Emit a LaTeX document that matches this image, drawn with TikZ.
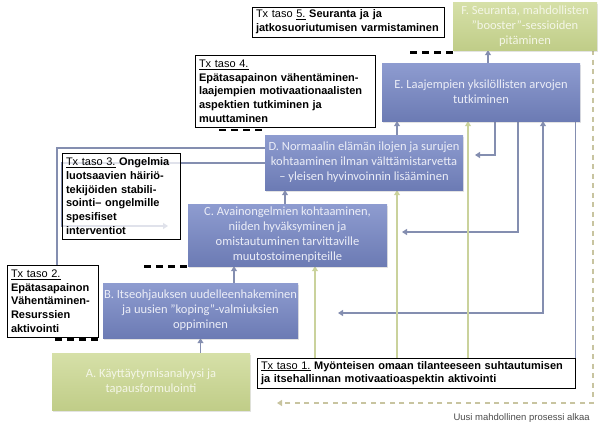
\documentclass[tikz,border=0pt]{standalone}
\usepackage{fontspec}
\setmainfont{Liberation Sans}
\newfontfamily\boxfont{Carlito}
\usetikzlibrary{arrows.meta,shadows,backgrounds}

\definecolor{stepblueT}{RGB}{142,156,208}
\definecolor{stepblueB}{RGB}{108,123,180}
\definecolor{stepgreenT}{RGB}{214,224,168}
\definecolor{stepgreenB}{RGB}{192,205,136}
\definecolor{colLink}{RGB}{132,142,176}
\definecolor{colGreen}{RGB}{202,210,156}
\definecolor{colReturn}{RGB}{200,196,160}

\tikzset{
  stepbox/.style={draw=none, top color=stepblueT, bottom color=stepblueB,
    text=white!82!stepblueT, font=\boxfont\fontsize{12.5}{15}\selectfont,
    align=center, inner sep=0pt,
    drop shadow={opacity=0.22, shadow xshift=1pt, shadow yshift=-1.5pt}},
  greenbox/.style={stepbox, top color=stepgreenT, bottom color=stepgreenB,
    text=white!72!stepgreenT},
  levelbox/.style={draw=black, line width=0.7pt, fill=white,
    font=\fontsize{11}{13.7}\selectfont, align=left,
    inner xsep=4pt, inner ysep=0pt},
  plainlink/.style={draw=colLink, line width=1.6pt},
  uplink/.style={plainlink, -{Triangle[width=6pt,length=5pt]}},
  bothlink/.style={plainlink, {Triangle[width=6pt,length=5pt]}-{Triangle[width=6pt,length=5pt]}},
  greenlink/.style={draw=colGreen, line width=1.6pt, -{Triangle[width=6pt,length=5pt]}},
  returnlink/.style={draw=colReturn, line width=2pt, dash pattern=on 5pt off 4.5pt,
    -{Triangle[width=6pt,length=5pt]}},
  stairdash/.style={draw=black, line width=2.6pt, dash pattern=on 7pt off 5pt}
}

\begin{document}
\begin{tikzpicture}[x=1pt,y=-1pt]
    \useasboundingbox (0,0) rectangle (605,426);

    % Vaiheet A-F
    \node[greenbox, minimum width=198pt, minimum height=57pt] (A) at (151,381.5)
        {A. Käyttäytymisanalyysi ja\\tapausformulointi};
    \node[stepbox, minimum width=195pt, minimum height=55pt] (B) at (200.5,310.5)
        {B. Itseohjauksen uudelleenhakeminen\\ja uusien ”koping”-valmiuksien\\oppiminen};
    \node[stepbox, minimum width=199pt, minimum height=62pt] (C) at (287.5,235)
        {C. Avainongelmien kohtaaminen,\\niiden hyväksyminen ja\\omistautuminen tarvittaville\\muutostoimenpiteille};
    \node[stepbox, minimum width=198pt, minimum height=55pt] (D) at (364,162.5)
        {D. Normaalin elämän ilojen ja surujen\\kohtaaminen ilman välttämistarvetta\\– yleisen hyvinvoinnin lisääminen};
    \node[stepbox, minimum width=198pt, minimum height=58pt] (E) at (481,92)
        {E. Laajempien yksilöllisten arvojen\\tutkiminen};
    \node[greenbox, minimum width=144pt, minimum height=48pt] (F) at (525,26)
        {F. Seuranta, mahdollisten\\”booster”-sessioiden\\pitäminen};

    % Tx-tasot
    \node[levelbox, text width=184pt, minimum height=30pt] (tx5) at (348,22)
        {Tx taso \underline{5.} \bfseries Seuranta ja ja\\jatkosuoriutumisen varmistaminen};
    \node[levelbox, text width=172pt, minimum height=72pt] (tx4) at (285,91)
        {\underline{Tx taso 4.}\\\bfseries Epätasapainon vähentäminen-\\laajempien motivaationaalisten\\aspektien tutkiminen ja\\muuttaminen};
    \node[levelbox, text width=110pt, minimum height=86pt, fill opacity=0.75, text opacity=1] (tx3) at (121,196)
        {\underline{Tx taso 3.} \bfseries Ongelmia\\luotsaavien häiriö-\\tekijöiden stabili-\\sointi– ongelmille\\spesifiset\\interventiot};
    \node[levelbox, text width=83pt, minimum height=72pt] (tx2) at (52.5,301)
        {\underline{Tx taso 2.}\\\bfseries Epätasapainon\\Vähentäminen-\\Resurssien\\aktivointi};
    \node[levelbox, text width=310pt, minimum height=30pt] (tx1) at (416,373)
        {\underline{Tx taso 1.} \bfseries Myönteisen omaan tilanteeseen suhtautumisen\\ja itsehallinnan motivaatioaspektin aktivointi};

    \node[font=\fontsize{9.5}{11}\selectfont, text=black!70, anchor=east, inner sep=0pt] (newproc) at (590,418)
        {Uusi mahdollinen prosessi alkaa};

    % porrasviivat
    \draw[stairdash] ([yshift=-2pt]F.south west) -- ++(-43,0);
    \draw[stairdash] ([xshift=-3pt,yshift=5pt]D.north west) -- ++(-44,0);
    \draw[stairdash] ([xshift=-1pt]C.south west) -- ++(-43,0);
    \draw[stairdash] ([xshift=-5pt,yshift=-1pt]B.south west) -- ++(-44,0);

    % yhteydet
    \coordinate (xBC) at (234,0);
    \coordinate (xCD) at (285,0);
    \coordinate (xDE) at (397,0);
    \coordinate (xEF) at (488,0);
    \coordinate (xG1) at (315,0);
    \coordinate (xG3) at (468,0);
    \coordinate (xR1) at (495,0);
    \coordinate (xR2) at (518,0);
    \coordinate (xR3) at (543,0);
    \coordinate (xF) at (593,0);
    \coordinate (dIn) at (475,155);
    \coordinate (cIn) at (402,232);
    \coordinate (bIn) at (338,313);
    \coordinate (aIn) at (277,403);
    \coordinate (lnA) at (57,148);
    \coordinate (lnB) at (62,163);
    \coordinate (tx3In) at (168,226);

    \begin{scope}[on background layer]
        \draw[uplink] (A.north -| B.south) -- (B.south);
        \draw[uplink] (B.north -| xBC) -- (C.south -| xBC);
        \draw[uplink] (C.north -| xCD) -- (D.south -| xCD);
        \draw[uplink] (D.north -| xDE) -- (E.south -| xDE);
        \draw[uplink] (E.north -| xEF) -- (F.south -| xEF);

        \draw[uplink] (E.south -| xR1) |- (dIn);
        \draw[uplink] (E.south -| xR2) |- (cIn);
        \draw[bothlink] (bIn) -| (E.south -| xR3);
        \draw[plainlink] (E.south -| tx1.east) -- (tx1.south east);

        \draw[plainlink] (D.west |- lnA) -- (lnA) -- (lnA |- tx2.north);
        \draw[uplink] (D.west |- lnB) -- (lnB) |- (tx3In);

        \draw[greenlink] (tx1.north -| xG1) -- (C.south -| xG1);
        \draw[greenlink] (tx1.north -| xDE) -- (D.south -| xDE);
        \draw[greenlink] (tx1.north -| xG3) -- (E.south -| xG3);

        \draw[returnlink] (F.south -| xF) |- (aIn);
    \end{scope}
\end{tikzpicture}
\end{document}
